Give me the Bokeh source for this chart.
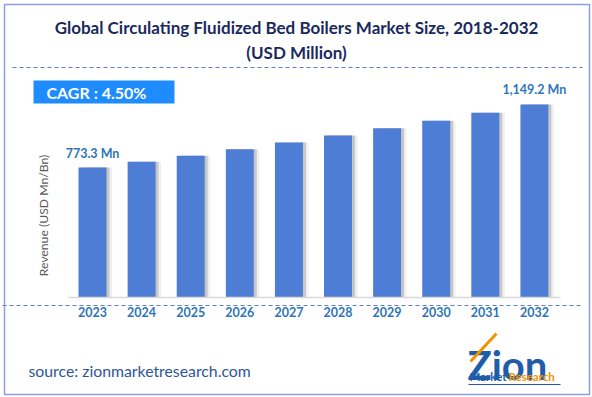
from bokeh.plotting import figure
from bokeh.models import Range1d
from bokeh.core.properties import value
from bokeh.embed import file_html
from bokeh.resources import INLINE
import math

# ---- data ----
years = ["2023", "2024", "2025", "2026", "2027", "2028", "2029", "2030", "2031", "2032"]
revenue = [773.3, 808.1, 844.5, 882.5, 922.2, 963.7, 1007.0, 1052.4, 1099.7, 1149.2]
first_label = "773.3 Mn"
last_label = "1,149.2 Mn"
title_line1 = "Global Circulating Fluidized Bed Boilers Market Size, 2018-2032"
title_line2 = "(USD Million)"
cagr_text = "CAGR :  4.50%"
y_label = "Revenue (USD Mn/Bn)"
source_text = "source: zionmarketresearch.com"

xs = [int(y) for y in years]

W, H = 592, 397
BAR = "#4D7DD5"
LABEL_BLUE = "#2E75B6"
NAVY = "#1B2A5C"
FONT = "Lato"

p = figure(width=W, height=H, x_range=Range1d(2021.126, 2033.183),
           y_range=Range1d(-595.2, 1767.9), x_axis_type=None, y_axis_type=None,
           min_border=0, toolbar_location=None, output_backend="svg")
p.outline_line_color = None
p.background_fill_color = "white"
p.border_fill_color = "white"
p.extra_x_ranges = {"px": Range1d(0, W)}
p.extra_y_ranges = {"py": Range1d(H, 0)}

def T(x, y, text, size, color, style="normal", align="left", baseline="middle", font=FONT, angle=0):
    p.text(x=[x], y=[y], text=[text], text_font=value(font), text_font_size=f"{size}px",
           text_color=color, text_font_style=style, text_align=align, text_baseline=baseline,
           angle=angle, x_range_name="px", y_range_name="py")

# border
p.quad(left=[4], right=[589], top=[4], bottom=[394], fill_color=None,
       line_color="#8E9FE2", line_width=1.5, x_range_name="px", y_range_name="py")

# title
T(W / 2, 27, title_line1, 17, NAVY, "bold", "center")
T(W / 2, 52, title_line2, 17, NAVY, "bold", "center")
p.segment(x0=[12], x1=[582], y0=[67], y1=[67], line_color="#5B7FC9", line_dash="4 3",
          line_width=1, x_range_name="px", y_range_name="py")

# CAGR box
p.quad(left=[33], right=[174], top=[80], bottom=[103], fill_color="#1E8CFF", line_color=None,
       x_range_name="px", y_range_name="py")
T(46, 92, cagr_text, 16, "white", "bold")

# y label
T(43, 215, y_label, 12.2, "#595959", "normal", "center", "middle", angle=math.pi / 2)

# bar shadows
p.vbar(x=[x + 0.11 for x in xs], top=revenue, bottom=0, width=0.57, fill_color="#BFBFBF",
       fill_alpha=0.25, line_color=None)
p.vbar(x=[x + 0.06 for x in xs], top=revenue, bottom=0, width=0.57, fill_color="#7F7F7F",
       fill_alpha=0.35, line_color=None)
# bars
p.vbar(x=xs, top=revenue, bottom=0, width=0.57, fill_color=BAR, line_color=None)

# baseline
p.segment(x0=[68], x1=[560], y0=[297], y1=[297], line_color="#D9D9D9", line_width=1.5,
          x_range_name="px", y_range_name="py")
# dashed line below axis
p.segment(x0=[2], x1=[580], y0=[305], y1=[305], line_color="#5B7FC9", line_dash="4 3",
          line_width=1, x_range_name="px", y_range_name="py")

# year labels
p.text(x=xs, y=[0] * len(xs), text=years, y_offset=14, text_font=value(FONT),
       text_font_size="12.5px", text_font_style="bold", text_color=LABEL_BLUE,
       text_align="center", text_baseline="middle")

# value labels
p.text(x=[xs[0], xs[-1]], y=[revenue[0], revenue[-1]], text=[first_label, last_label],
       y_offset=-7, text_font=value(FONT), text_font_size="12.5px", text_font_style="bold",
       text_color=LABEL_BLUE, text_align="center", text_baseline="bottom")

# source
T(28, 370, source_text, 15.8, "#2F5597")

# logo
T(467, 364, "Zion", 40, "#1F5DA8", "bold", "left", "alphabetic")
p.segment(x0=[470], x1=[496], y0=[361], y1=[333], line_color="#F39200", line_width=3,
          x_range_name="px", y_range_name="py")
T(506, 376, "Market", 11.5, "#1F5DA8", "bold", "right")
T(508, 376, "Research", 11.5, "#F39200", "bold", "left")
p.segment(x0=[468], x1=[560], y0=[384], y1=[384], line_color="#1F5DA8", line_width=1,
          x_range_name="px", y_range_name="py")

open("out.html", "w").write(file_html(p, INLINE))
